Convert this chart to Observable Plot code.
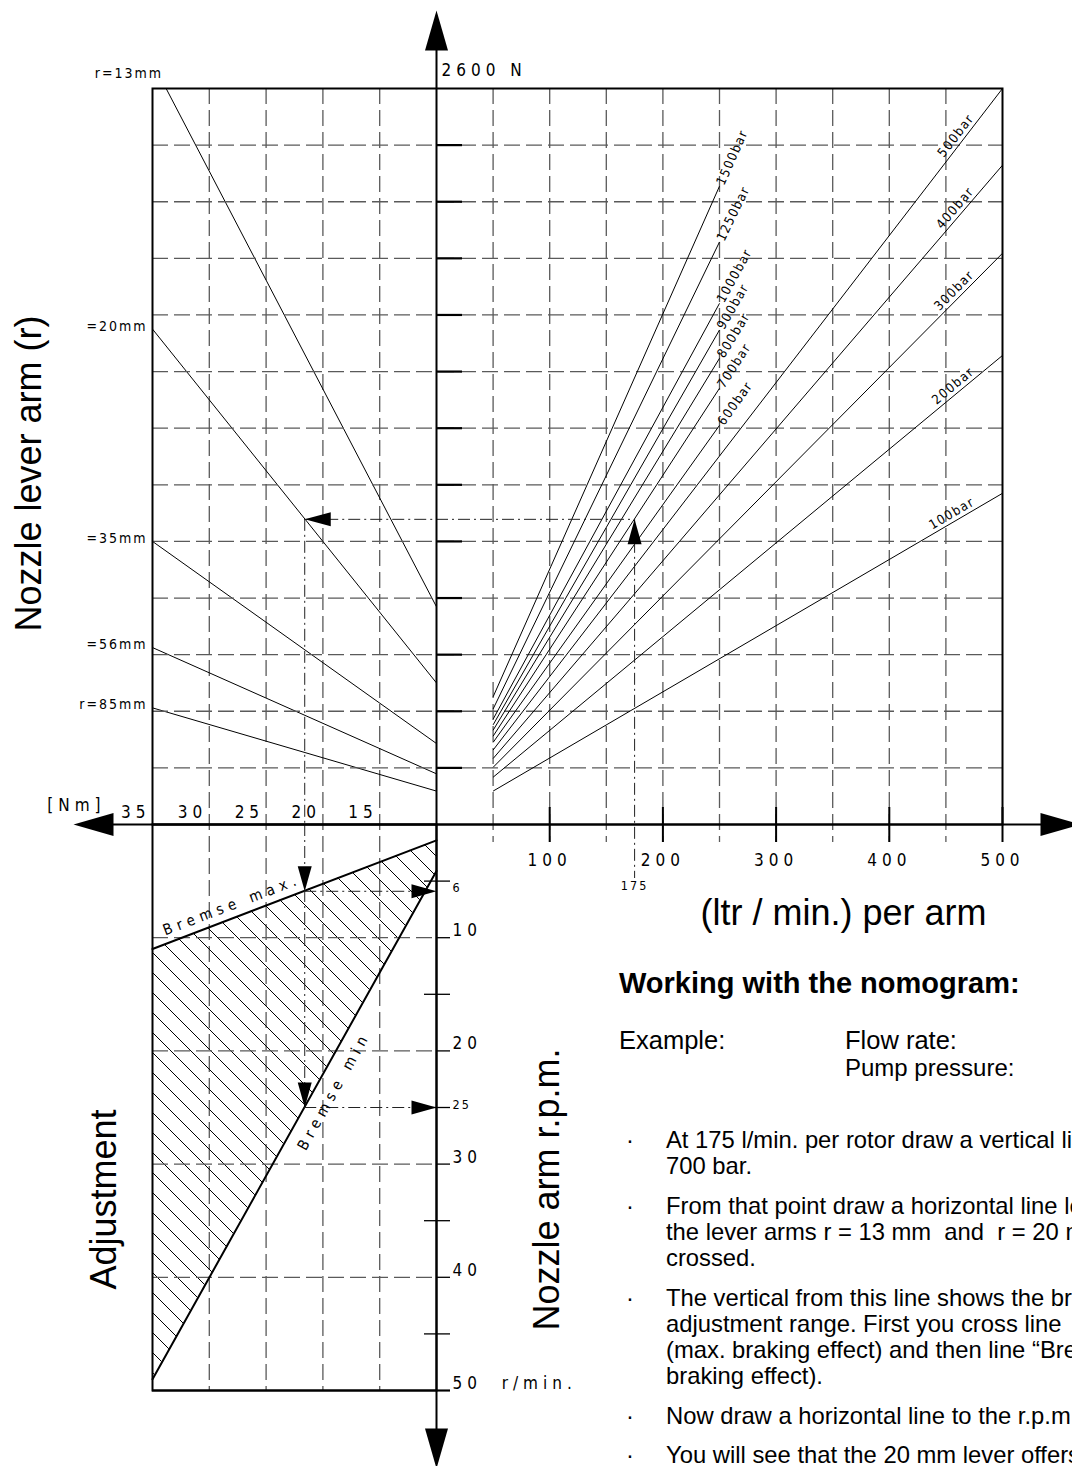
<!DOCTYPE html>
<html>
<head>
<meta charset="utf-8">
<script src="https://cdn.jsdelivr.net/npm/d3@7"></script>
<script src="https://cdn.jsdelivr.net/npm/@observablehq/plot@0.6"></script>
<style>
  html, body { margin: 0; padding: 0; background: #fff; overflow: hidden; }
  #wrap { position: relative; width: 1072px; height: 1466px; overflow: hidden; background: #fff; }
  #wrap svg g[font-size="17"] text { letter-spacing: 5px; }
  #wrap svg g[font-size="15"] text { letter-spacing: 5.2px; }
  #wrap svg g[font-size="14"] text { letter-spacing: 2px; }
  #wrap svg g[font-size="13"] text { letter-spacing: 1.4px; }
  #wrap svg g[font-size="12.5"] text { letter-spacing: 2px; }
  .note { position: absolute; font-family: "Liberation Sans", Arial, Helvetica, sans-serif; color: #000; white-space: nowrap; }
  .h { font-weight: bold; font-size: 29px; line-height: 1; }
  .e { font-size: 25.5px; line-height: 1; }
  .p { font-size: 24px; line-height: 1; }
  .b { left: 622px; font-size: 23.8px; line-height: 26px; }
  .b .dot { position: absolute; left: 4px; top: 0; }
  .b .txt { margin-left: 44px; }
</style>
</head>
<body>
<div id="wrap">
  <svg width="0" height="0" style="position:absolute;left:0;top:0">
    <defs>
      <pattern id="hatch" patternUnits="userSpaceOnUse" width="20" height="20">
        <path d="M-5,-5L25,25M-5,15L5,25M15,-5L25,5" stroke="#000" stroke-width="1" fill="none"/>
      </pattern>
    </defs>
  </svg>
  <div class="note h" style="left:619px;top:969px">Working with the nomogram:</div>
  <div class="note e" style="left:619px;top:1028px">Example:</div>
  <div class="note e" style="left:845px;top:1028px">Flow rate:</div>
  <div class="note p" style="left:845px;top:1056px">Pump pressure:</div>
  <div class="note b" style="top:1127px"><span class="dot">·</span><div class="txt">At 175 l/min. per rotor draw a vertical line<br>700 bar.</div></div>
  <div class="note b" style="top:1193px"><span class="dot">·</span><div class="txt">From that point draw a horizontal line left<br>the lever arms r = 13 mm&nbsp; and&nbsp; r = 20 mm<br>crossed.</div></div>
  <div class="note b" style="top:1285px"><span class="dot">·</span><div class="txt">The vertical from this line shows the brake<br>adjustment range. First you cross line<br>(max. braking effect) and then line “Bremse<br>braking effect).</div></div>
  <div class="note b" style="top:1403px"><span class="dot">·</span><div class="txt">Now draw a horizontal line to the r.p.m.</div></div>
  <div class="note b" style="top:1442px"><span class="dot">·</span><div class="txt">You will see that the 20 mm lever offers</div></div>
</div>
<script>
// ---------------- data ----------------
// flow (l/min per arm) vs reaction force (N): pressure curves
const pressureLabels = ["100bar","200bar","300bar","400bar","500bar","600bar","700bar","800bar","900bar","1000bar","1250bar","1500bar"];
const lineStartFlow  = [50, 50, 50, 50, 50, 50, 50, 50, 50, 50, 50, 50];
const lineStartForce = [118, 167, 202, 233, 263, 290, 312, 333, 352, 372, 408, 451];
const lineEndFlow    = [500, 500, 500, 500, 500, 250, 250, 250, 250, 250, 250, 250];
const lineEndForce   = [1170, 1657, 2018, 2329, 2600, 1410, 1541, 1647, 1747, 1841, 2058, 2255];

const flowTicks = [100, 200, 300, 400, 500];
const flowGrid = [50, 100, 150, 200, 250, 300, 350, 400, 450];
const forceGrid = [200, 400, 600, 800, 1000, 1200, 1400, 1600, 1800, 2000, 2200, 2400];
const forceMax = 2600;
const forceUnitLabel = "2600 N";

// lever arms: torque (Nm) vs force (N)
const leverLabels      = ["r=13mm", "=20mm", "=35mm", "=56mm", "r=85mm"];
const leverStartTorque = [33.8, 35, 35, 35, 35];
const leverStartForce  = [2600, 1750, 1000, 625, 412];
const leverEndTorque   = [10, 10, 10, 10, 10];
const leverEndForce    = [769, 500, 286, 179, 118];
const torqueTicks = [35, 30, 25, 20, 15];
const torqueGrid = [30, 25, 20, 15];
const torqueUnit = "[Nm]";

// brake adjustment: torque (Nm) vs nozzle arm r.p.m.
const brakeTorque = [35, 10];
const brakeMaxRpm = [11, 1.4];
const brakeMinRpm = [49, 4.1];
const rpmTicks = [10, 20, 30, 40, 50];
const rpmTickLabels = ["10", "20", "30", "40", "50  r/min."];
const rpmGrid = [10, 20, 30, 40];
const rpmMinorTicks = [5, 15, 25, 35, 45];

// worked example
const exampleFlow = 175;
const exampleForce = 1078;
const exampleTorque = 21.6;
const exampleRpmMax = 5.9;
const exampleRpmMin = 25;
const exampleRpmMaxLabel = "6";
const exampleRpmMinLabel = "25";

// ---------------- layout ----------------
const W = 1072, H = 1466;
const X0 = 436, Y0 = 824, XR = 1002, YT = 88, XL = 152, YB = 1390;
const TECH = '"Liberation Sans Narrow", "DejaVu Sans Condensed", "DejaVu Sans", sans-serif';
const SANS = '"Liberation Sans", Arial, Helvetica, sans-serif';
const GRID = "#5a5a5a";
const DASH = "16,6";
const DASHDOT = "12,4,2,4";

function base(ml, mr, mt, mb) {
  return {
    width: W, height: H,
    marginLeft: ml, marginRight: mr, marginTop: mt, marginBottom: mb,
    style: {position: "absolute", left: "0px", top: "0px", background: "transparent", overflow: "visible", fontFamily: TECH, color: "black"}
  };
}
function arrow(len, half, dir) {
  return {draw(ctx) {
    const p = dir === "up" ? [[0,0],[-half,len],[half,len]]
      : dir === "down" ? [[0,0],[-half,-len],[half,-len]]
      : dir === "left" ? [[0,0],[len,-half],[len,half]]
      : [[0,0],[-len,-half],[-len,half]];
    ctx.moveTo(p[0][0], p[0][1]); ctx.lineTo(p[1][0], p[1][1]); ctx.lineTo(p[2][0], p[2][1]); ctx.closePath();
  }};
}
const bigUp = arrow(40, 11.5, "up"), bigDown = arrow(40, 11.5, "down"), bigLeft = arrow(40, 11.5, "left"), bigRight = arrow(40, 11.5, "right");
const smUp = arrow(25, 7, "up"), smDown = arrow(25, 7, "down"), smLeft = arrow(26, 7, "left"), smRight = arrow(25, 7, "right");
const big = {fontFamily: SANS, fontSize: 36, textAnchor: "middle", lineAnchor: "middle"};

const wrap = document.getElementById("wrap");

// ---------- top-left: torque vs force ----------
const leverRows = leverLabels.map((label, i) => ({label, t1: leverStartTorque[i], f1: leverStartForce[i], t2: leverEndTorque[i], f2: leverEndForce[i]}));
const tl = Plot.plot({
  ...base(XL, W - X0, YT, H - Y0),
  x: {domain: [35, 10], axis: null},
  y: {domain: [0, forceMax], axis: null},
  marks: [
    Plot.ruleX(torqueGrid, {insetBottom: -(YB - Y0), stroke: GRID, strokeWidth: 1.3, strokeDasharray: DASH}),
    Plot.link(leverRows, {x1: "t1", y1: "f1", x2: "t2", y2: "f2", stroke: "black", strokeWidth: 1}),
    Plot.text(leverRows.slice(0, 1), {x: "t1", y: "f1", text: "label", textAnchor: "end", dx: -3, dy: -15, fontSize: 14}),
    Plot.text(leverRows.slice(1), {x: "t1", y: "f1", text: "label", textAnchor: "end", dx: -5, dy: -3, fontSize: 14}),
    Plot.text(torqueTicks, {x: d => d, y: () => 0, text: d => `${d}`, textAnchor: "end", dx: -2, dy: -12, fontSize: 17}),
    Plot.text([torqueUnit], {x: () => 35, y: () => 0, text: d => d, textAnchor: "end", dx: -47, dy: -19, fontSize: 17}),
    // example path
    Plot.ruleY([exampleForce], {x1: () => exampleTorque, x2: () => 10, stroke: "#222", strokeWidth: 1, strokeDasharray: DASHDOT}),
    Plot.ruleX([exampleTorque], {y1: () => exampleForce, y2: () => 0, stroke: "#222", strokeWidth: 1, strokeDasharray: DASHDOT}),
    Plot.dot([exampleForce], {x: () => exampleTorque, y: d => d, symbol: smLeft, fill: "black", stroke: "none", r: 5}),
    // left axis arrow
    Plot.dot([0], {x: () => 35, y: d => d, dx: -79, symbol: bigLeft, fill: "black", stroke: "none", r: 5}),
    Plot.text(["Nozzle lever arm (r)"], {text: d => d, frameAnchor: "left", dx: -123.5, dy: 17, rotate: -90, ...big})
  ]
});

// ---------- bottom-left: torque vs r.p.m. ----------
const brakeRows = brakeTorque.map((t, i) => ({t, max: brakeMaxRpm[i], min: brakeMinRpm[i]}));
const rpmPx = (YB - Y0) / 50, nmPx = (X0 - XL) / 25;
const maxAngle = Math.atan2((brakeMaxRpm[0] - brakeMaxRpm[1]) * rpmPx, (brakeTorque[0] - brakeTorque[1]) * nmPx) * 180 / Math.PI;
const minAngle = Math.atan2((brakeMinRpm[0] - brakeMinRpm[1]) * rpmPx, (brakeTorque[0] - brakeTorque[1]) * nmPx) * 180 / Math.PI;
const lerpMax = t => brakeMaxRpm[1] + (t - brakeTorque[1]) / (brakeTorque[0] - brakeTorque[1]) * (brakeMaxRpm[0] - brakeMaxRpm[1]);
const lerpMin = t => brakeMinRpm[1] + (t - brakeTorque[1]) / (brakeTorque[0] - brakeTorque[1]) * (brakeMinRpm[0] - brakeMinRpm[1]);
const ra = maxAngle * Math.PI / 180, rb = minAngle * Math.PI / 180;
const bl = Plot.plot({
  ...base(XL, W - X0, Y0, H - YB),
  x: {domain: [35, 10], axis: null},
  y: {domain: [0, 50], reverse: true, axis: null},
  marks: [
    Plot.areaY(brakeRows, {x: "t", y1: "max", y2: "min", fill: "url(#hatch)"}),
    Plot.ruleY(rpmGrid, {stroke: GRID, strokeWidth: 1.3, strokeDasharray: DASH}),
    Plot.ruleY(rpmTicks, {x1: () => 10, x2: () => 10, insetRight: -14, stroke: "black", strokeWidth: 1.3}),
    Plot.ruleY(rpmMinorTicks, {x1: () => 10, x2: () => 10, insetLeft: -12, insetRight: -14, stroke: "black", strokeWidth: 1.3}),
    Plot.line(brakeRows, {x: "t", y: "max", stroke: "black", strokeWidth: 2}),
    Plot.line(brakeRows, {x: "t", y: "min", stroke: "black", strokeWidth: 2}),
    Plot.frame({stroke: "black", strokeWidth: 2}),
    Plot.ruleY([50], {insetRight: -14, stroke: "black", strokeWidth: 2}),
    Plot.text(rpmTicks, {x: () => 10, y: d => d, text: (d, i) => rpmTickLabels[i], textAnchor: "start", dx: 16, dy: -7, fontSize: 17}),
    // example path
    Plot.ruleX([exampleTorque], {y1: () => 0, y2: () => exampleRpmMin, stroke: "#222", strokeWidth: 1, strokeDasharray: DASHDOT}),
    Plot.ruleY([exampleRpmMax, exampleRpmMin], {x1: () => exampleTorque, x2: () => 10, stroke: "#222", strokeWidth: 1, strokeDasharray: DASHDOT}),
    Plot.dot([exampleRpmMax, exampleRpmMin], {x: () => exampleTorque, y: d => d, symbol: smDown, fill: "black", stroke: "none", r: 5}),
    Plot.dot([exampleRpmMax, exampleRpmMin], {x: () => 10, y: d => d, symbol: smRight, fill: "black", stroke: "none", r: 5}),
    Plot.text([exampleRpmMax, exampleRpmMin], {x: () => 10, y: d => d, text: (d, i) => [exampleRpmMaxLabel, exampleRpmMinLabel][i], textAnchor: "start", dx: 16, dy: -3, fontSize: 12.5}),
    // brake labels
    Plot.text(["Bremse max."], {x: () => 27.6, y: () => lerpMax(27.6), text: d => d, rotate: -maxAngle, lineAnchor: "bottom", textAnchor: "middle", dx: -8 * Math.sin(ra), dy: -8 * Math.cos(ra), fontSize: 15}),
    Plot.text(["Bremse min"], {x: () => 20.4, y: () => lerpMin(20.4), text: d => d, rotate: -minAngle, lineAnchor: "top", textAnchor: "middle", dx: 12 * Math.sin(rb), dy: 12 * Math.cos(rb), fontSize: 15}),
    // bottom axis arrow
    Plot.dot([50], {x: () => 10, y: d => d, dy: 78, symbol: bigDown, fill: "black", stroke: "none", r: 5}),
    Plot.text(["Adjustment"], {text: d => d, frameAnchor: "left", dx: -48.5, dy: 92, rotate: -90, ...big}),
    Plot.text(["Nozzle arm r.p.m."], {text: d => d, frameAnchor: "right", dx: 110.5, dy: 82, rotate: -90, ...big})
  ]
});

// ---------- top-right: flow vs force ----------
const kx = (XR - X0) / 500, ky = (Y0 - YT) / forceMax;
const barRows = pressureLabels.map((label, i) => ({label, q1: lineStartFlow[i], f1: lineStartForce[i], q2: lineEndFlow[i], f2: lineEndForce[i]}));
const barLabelMarks = barRows.map(r => {
  const ang = Math.atan2((r.f2 - r.f1) * ky, (r.q2 - r.q1) * kx);
  const deg = ang * 180 / Math.PI;
  if (r.q2 >= 500) {
    const q = 478, f = r.f1 + (r.f2 - r.f1) * (q - r.q1) / (r.q2 - r.q1);
    return Plot.text([r], {x: () => q, y: () => f, text: "label", rotate: -deg, textAnchor: "end", lineAnchor: "bottom",
      dx: -4 * Math.sin(ang), dy: -4 * Math.cos(ang), fontSize: 13});
  }
  return Plot.text([r], {x: "q2", y: "f2", text: "label", rotate: -deg, textAnchor: "start", lineAnchor: "middle",
    dx: 2 * Math.cos(ang), dy: -2 * Math.sin(ang), fontSize: 13});
});
const tr = Plot.plot({
  ...base(X0, W - XR, YT, H - Y0),
  x: {domain: [0, 500], axis: null},
  y: {domain: [0, forceMax], axis: null},
  marks: [
    Plot.ruleY(forceGrid, {insetLeft: -(X0 - XL), stroke: GRID, strokeWidth: 1.3, strokeDasharray: DASH}),
    Plot.ruleX(flowGrid, {insetBottom: -18, stroke: GRID, strokeWidth: 1.3, strokeDasharray: DASH}),
    Plot.ruleY(forceGrid, {x1: () => 0, x2: () => 0, insetRight: -26, stroke: "black", strokeWidth: 2.2}),
    Plot.ruleX(flowTicks, {y1: () => 0, y2: () => 0, insetTop: -17, insetBottom: -18, stroke: "black", strokeWidth: 2}),
    Plot.link(barRows, {x1: "q1", y1: "f1", x2: "q2", y2: "f2", stroke: "black", strokeWidth: 1}),
    ...barLabelMarks,
    // example path
    Plot.ruleX([exampleFlow], {y1: () => exampleForce, y2: () => 0, insetBottom: -54, stroke: "#222", strokeWidth: 1, strokeDasharray: DASHDOT}),
    Plot.ruleY([exampleForce], {x1: () => 0, x2: () => exampleFlow, stroke: "#222", strokeWidth: 1, strokeDasharray: DASHDOT}),
    Plot.dot([exampleForce], {x: () => exampleFlow, y: d => d, symbol: smUp, fill: "black", stroke: "none", r: 5}),
    // frame and main axes
    Plot.frame({insetLeft: -(X0 - XL), stroke: "black", strokeWidth: 2}),
    Plot.ruleY([0], {insetLeft: -(X0 - 112), insetRight: -(1045 - XR), stroke: "black", strokeWidth: 2}),
    Plot.ruleX([0], {insetTop: -(YT - 45), insetBottom: -(1432 - Y0), stroke: "black", strokeWidth: 2}),
    Plot.dot([forceMax], {x: () => 0, y: d => d, dy: -78, symbol: bigUp, fill: "black", stroke: "none", r: 5}),
    Plot.dot([500], {x: d => d, y: () => 0, dx: 78, symbol: bigRight, fill: "black", stroke: "none", r: 5}),
    // labels
    Plot.text(flowTicks, {x: d => d, y: () => 0, text: d => `${d}`, dy: 36, fontSize: 17}),
    Plot.text([exampleFlow], {x: d => d, y: () => 0, text: d => `${d}`, dy: 61, fontSize: 12.5}),
    Plot.text([forceUnitLabel], {x: () => 0, y: () => forceMax, text: d => d, textAnchor: "start", dx: 5, dy: -18, fontSize: 17}),
    Plot.text(["(ltr / min.) per arm"], {text: d => d, frameAnchor: "bottom", dx: 124, dy: 88.5, ...big})
  ]
});

wrap.appendChild(tl);
wrap.appendChild(bl);
wrap.appendChild(tr);
</script>
</body>
</html>
